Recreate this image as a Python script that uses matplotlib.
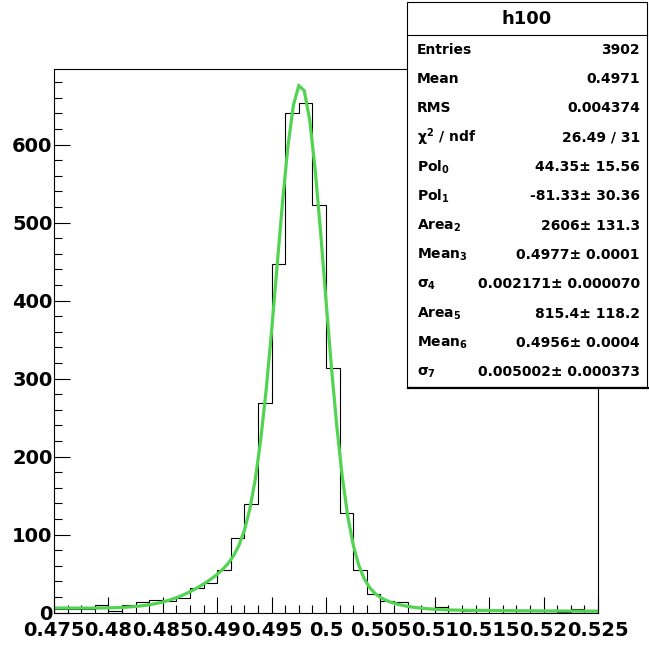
import numpy as np
import matplotlib
matplotlib.use("Agg")
import matplotlib.pyplot as plt
from matplotlib.ticker import MultipleLocator, FuncFormatter
from matplotlib.patches import Rectangle

plt.rcParams['font.family'] = ['DejaVu Sans']
plt.rcParams['font.weight'] = 'bold'
plt.rcParams['mathtext.fontset'] = 'custom'
plt.rcParams['mathtext.rm'] = 'DejaVu Sans:bold'
plt.rcParams['mathtext.bf'] = 'DejaVu Sans:bold'
plt.rcParams['mathtext.it'] = 'DejaVu Sans'

# histogram h100: 40 bins from 0.475 to 0.525 (counts)
x_lo, x_hi, n_bins = 0.475, 0.525, 40
counts = [4, 5, 4, 9, 2, 9, 14, 16, 15, 18,
          32, 38, 54, 95, 139, 269, 447, 641, 654, 522,
          314, 128, 54, 24, 15, 13, 7, 6, 7, 3,
          2, 5, 3, 3, 2, 2, 2, 1, 4, 3]

# fit parameters shown in the stats box: pol1 + gaus + gaus
pol0, pol1 = 44.35, -81.33
area2, mean3, sigma4 = 2606, 0.4977, 0.002171
area5, mean6, sigma7 = 815.4, 0.4956, 0.005002

stat_labels = ["Entries", "Mean", "RMS", r"$\chi^{2}$ / ndf", r"Pol$_{0}$", r"Pol$_{1}$",
               r"Area$_{2}$", r"Mean$_{3}$", r"$\sigma_{4}$", r"Area$_{5}$", r"Mean$_{6}$",
               r"$\sigma_{7}$"]
stat_values = ["3902", "0.4971", "0.004374", "26.49 / 31", "44.35\u00b1 15.56",
               "-81.33\u00b1 30.36", "2606\u00b1 131.3", "0.4977\u00b1 0.0001",
               "0.002171\u00b1 0.000070", "815.4\u00b1 118.2", "0.4956\u00b1 0.0004",
               "0.005002\u00b1 0.000373"]

W, H = 649, 646
fig = plt.figure(figsize=(W / 100, H / 100), dpi=100)
ax = fig.add_axes([54 / W, 1 - 612.5 / H, 544 / W, 543.5 / H])

edges = np.linspace(x_lo, x_hi, n_bins + 1)
bw = edges[1] - edges[0]
ax.stairs(counts, edges, color='black', lw=0.8)

# fit curve, sampled like ROOT (npx = 100)
xf = np.linspace(x_lo, x_hi, 101)
def gaus(x, area, mu, sig):
    return area * bw / (np.sqrt(2 * np.pi) * sig) * np.exp(-0.5 * ((x - mu) / sig) ** 2)
yf = pol0 + pol1 * xf + gaus(xf, area2, mean3, sigma4) + gaus(xf, area5, mean6, sigma7)
ax.plot(xf, yf, color='#52d452', lw=2.3, solid_joinstyle='miter')

ax.set_xlim(x_lo, x_hi)
ax.set_ylim(0, 697)
ax.xaxis.set_major_locator(MultipleLocator(0.005))
ax.xaxis.set_minor_locator(MultipleLocator(0.00125))
ax.yaxis.set_major_locator(MultipleLocator(100))
ax.yaxis.set_minor_locator(MultipleLocator(20))
ax.xaxis.set_major_formatter(FuncFormatter(lambda v, p: f"{v:.3f}".rstrip('0').rstrip('.')))
ax.tick_params(which='both', direction='in', top=False, right=False, width=0.8)
ax.tick_params(which='major', length=11.5)
ax.tick_params(which='minor', length=5.8)
ax.tick_params(axis='y', labelsize=14, pad=1)
ax.tick_params(axis='x', labelsize=14, pad=6)
for s in ax.spines.values():
    s.set_linewidth(0.8)

# stats box, drawn in pixel units
box = fig.add_axes([407 / W, 1 - 387 / H, (W - 407) / W, 385 / H])
box.set_xlim(0, W - 407)
box.set_ylim(387, 2)
box.axis('off')
bw_px = 240
box.add_patch(Rectangle((0, 2), bw_px, 385, facecolor='white', edgecolor='black', lw=0.8, clip_on=False))
box.plot([1, bw_px + 1], [388, 388], color='black', lw=1.6, clip_on=False)
box.plot([0, bw_px], [35, 35], color='black', lw=0.8)
box.text(bw_px / 2, 19, "h100", ha='center', va='center', fontsize=13, fontweight='bold')
row_h = (387 - 35) / len(stat_labels)
for i, (lab, val) in enumerate(zip(stat_labels, stat_values)):
    yc = 35 + row_h * (i + 0.5)
    box.text(10, yc, lab, ha='left', va='center', fontsize=10, fontweight='bold')
    box.text(233, yc, val, ha='right', va='center', fontsize=10, fontweight='bold')

fig.savefig("out.png", dpi=100)
